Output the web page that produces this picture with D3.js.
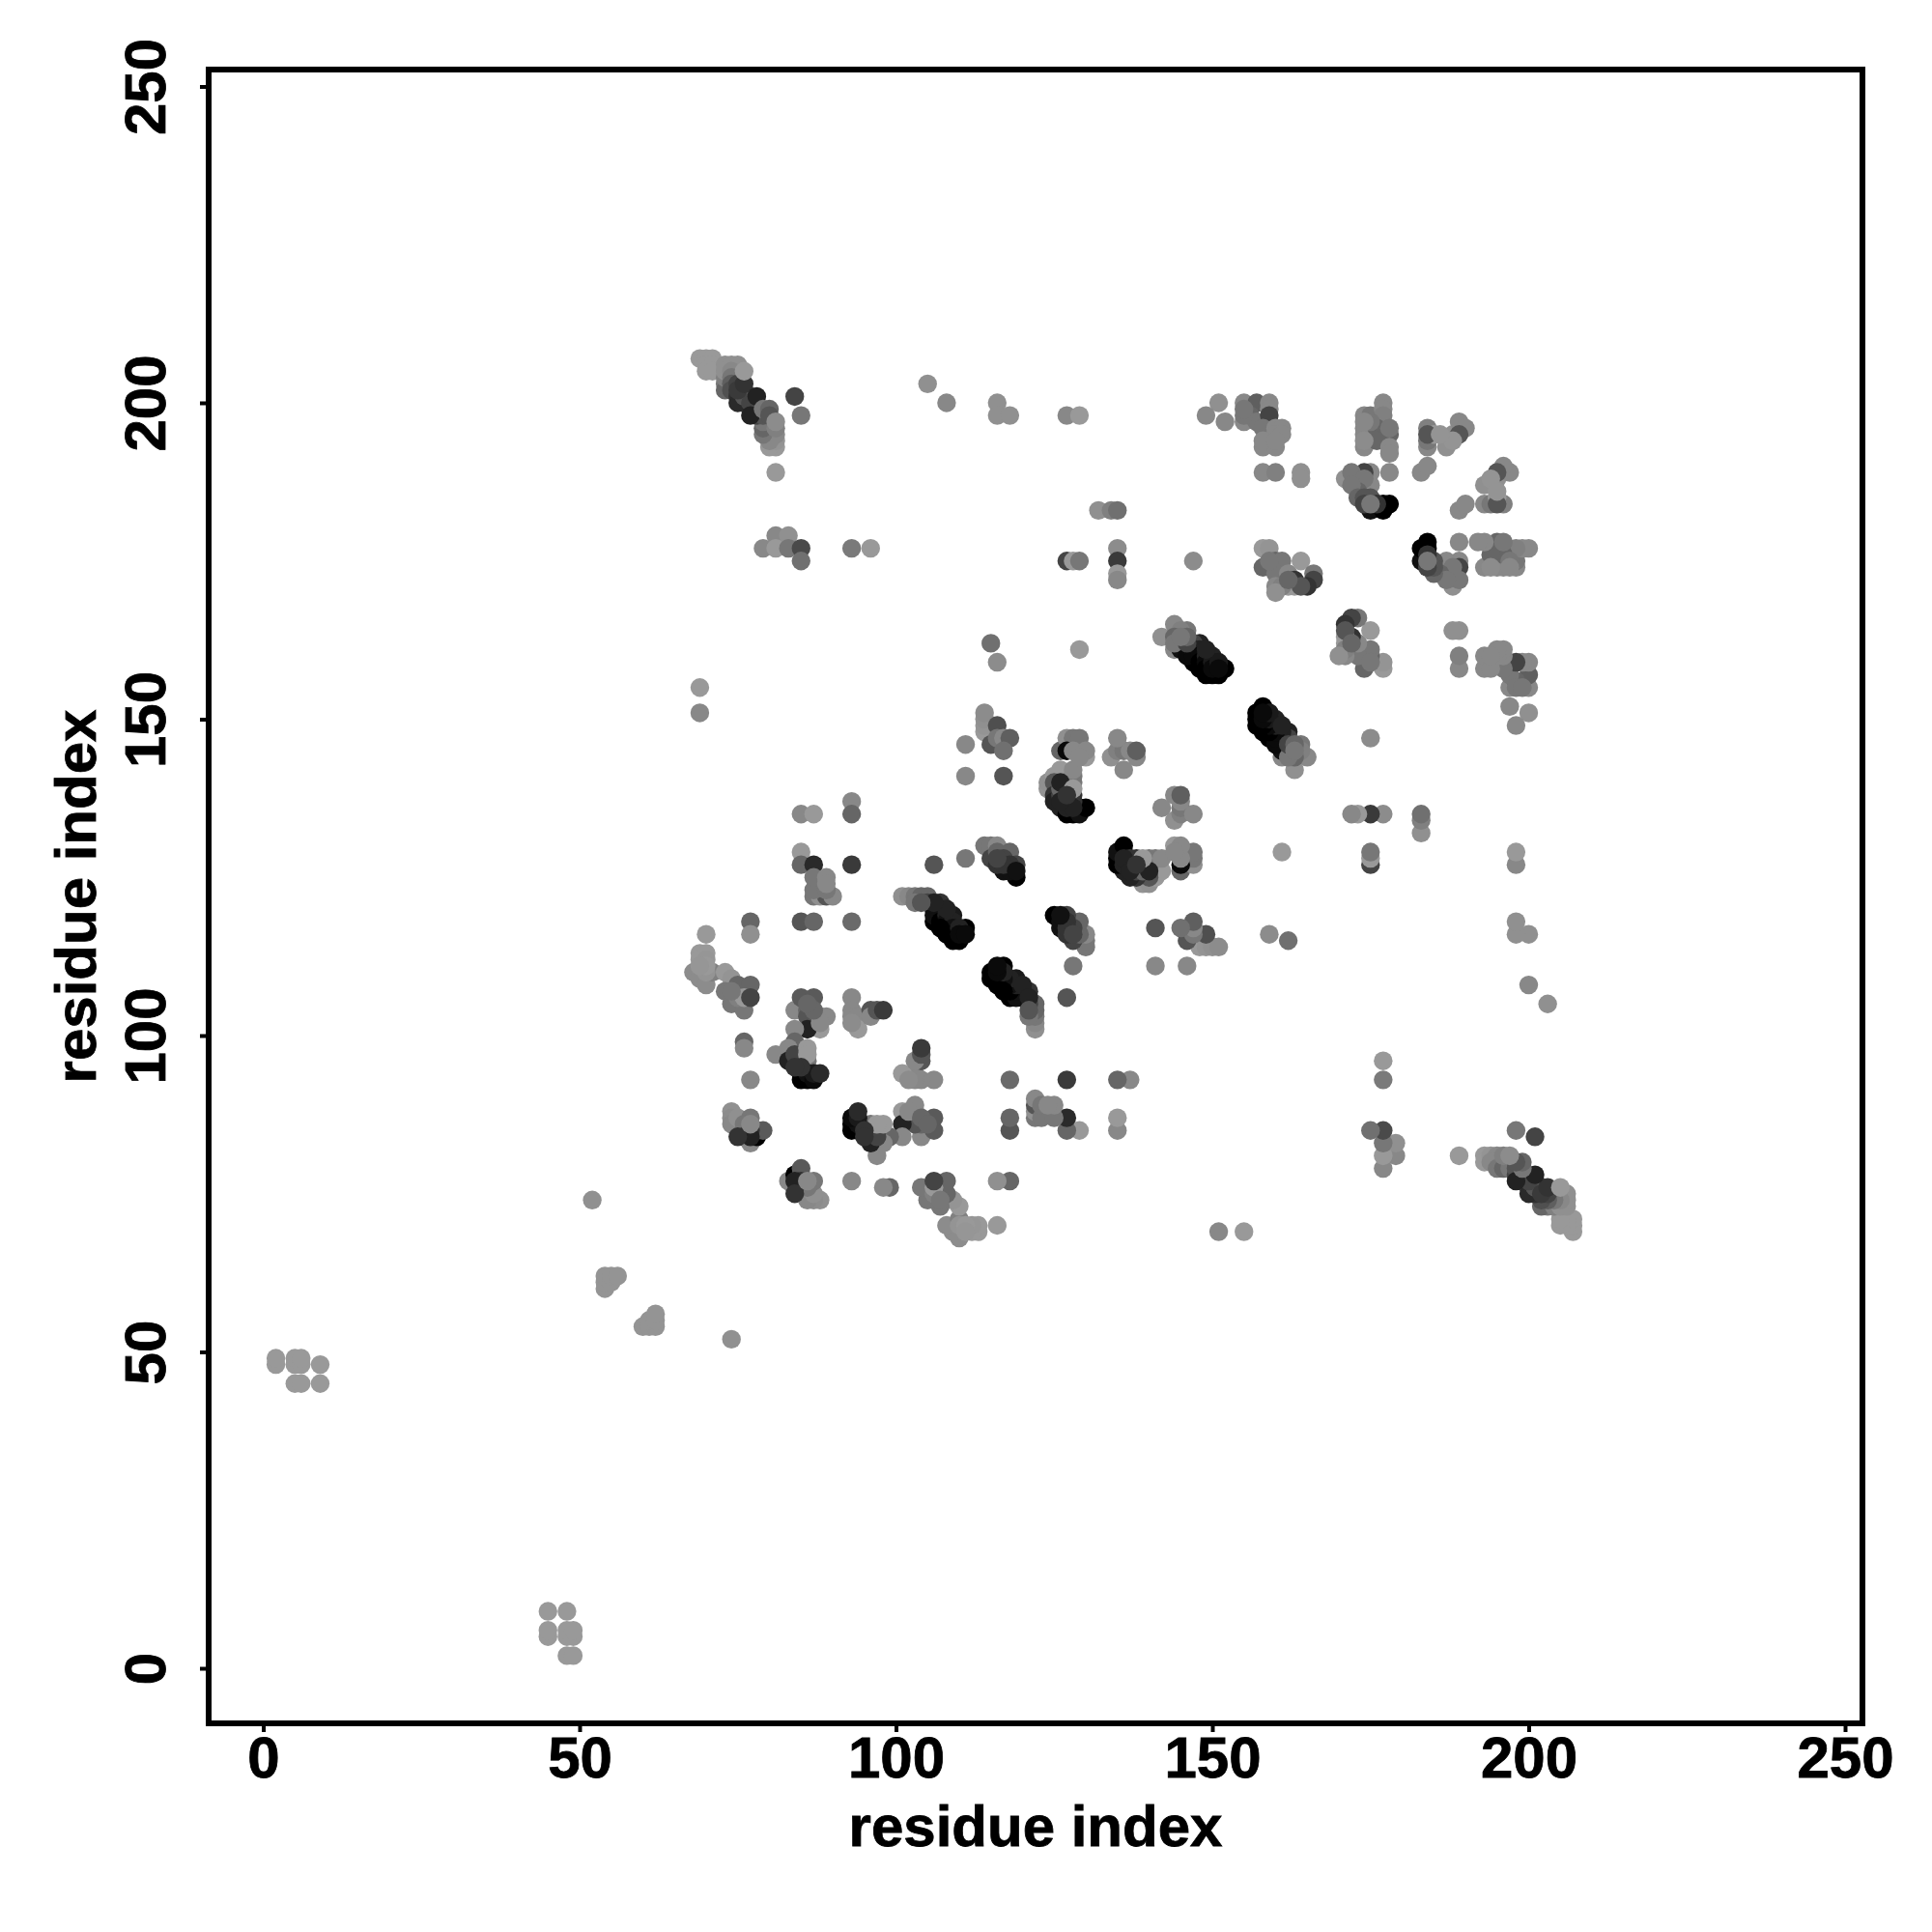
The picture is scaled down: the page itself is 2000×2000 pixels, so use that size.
<!DOCTYPE html>
<html><head><meta charset="utf-8">
<style>html,body{margin:0;padding:0;background:#fff}svg{display:block}</style>
<script src="https://cdn.jsdelivr.net/npm/d3@7"></script></head><body>
<script>
// contacts: [residue i, residue j, grey level]; the map is symmetric and is mirrored below
const farContacts = [
[2,48,153],[2,49,153],[5,45,153],[5,48,153],[5,49,153],[6,45,153],[6,48,153],[6,49,153],[9,45,153],[9,48,153],
[52,74,144],[54,60,148],[54,61,148],[54,62,148],[55,61,148],[55,62,148],[56,62,148],
[69,155,153],[69,151,136],[105,203,144],[108,200,136],[116,200,144],[116,198,144],[118,198,144],[127,198,136],[129,198,153],
[132,183,144],[134,183,128],[135,183,112],[135,177,140],[135,175,58],[135,173,153],[127,175,68],[128,175,153],[129,175,119],
[79,177,136],[81,179,136],[83,179,144],[81,177,153],[83,177,119],[85,177,74],[85,175,112],[93,177,122],[96,177,153],
[115,162,112],[116,159,140],[129,161,153],[84,201,68],[85,198,119],[81,189,153],[147,175,140],[161,129,153],
[151,200,144],[149,198,136],[152,197,136],[158,189,136],[160,189,128],[164,189,144],[164,188,144],
[188,164,153],[189,164,153],[189,160,136],[189,158,136],[197,152,128],[200,151,144],[198,149,136],[175,147,136],
[172,135,136],[175,135,51],[177,135,136],[183,135,112],[183,134,112],[183,132,144]
];
const strandTopLeft = [
[69,207,153],[70,207,153],[71,207,153],[70,206,153],[71,206,153],[70,205,153],[71,205,153],
[73,203,119],[73,202,102],[73,204,128],[73,205,144],[73,206,144],[74,206,144],[75,206,144],[74,205,136],[74,204,119],
[81,193,153],[80,193,153],[81,194,148],[81,195,136],[80,194,136],[79,195,119],[79,196,102],[79,197,119],
[74,203,95],[74,202,80],[75,203,68],[75,201,51],[76,202,68],[76,200,51],[77,201,68],[78,199,51],[78,198,68],[77,199,68],[79,198,85],
[75,200,42],[76,201,85],[77,200,68],[77,198,34],[75,202,58],[76,203,51],[78,201,34],[79,199,119],[80,199,102],[80,198,85],[81,196,128],[81,197,140],[76,205,153]
];
const sheetA = [
[114,148,153],[114,149,148],[114,150,144],[114,151,140],[115,146,85],[116,149,79],[116,147,119],[117,147,136],[118,147,95],[117,145,112],[111,146,136],[111,141,136],[117,141,85],
[124,139,148],[124,140,144],[125,141,153],[126,142,153],[125,140,85],[125,138,51],[125,137,34],[126,136,34],[127,135,0],[128,135,0],[128,138,51],[129,136,17],[129,135,17],[130,136,0],
[126,138,68],[127,137,51],[127,136,34],[128,137,51],[128,136,34],
[128,140,119],[128,141,119],[128,142,136],
[126,145,102],[130,144,153],[127,147,144],[128,147,119],[129,147,119],[127,145,10],[128,145,136],[130,145,136],
[134,144,144],[135,145,128],[136,145,119],[137,145,136],[138,144,136],[138,145,95],[135,147,136],[136,142,136],
[142,136,136],[144,138,144],[145,136,128],[147,135,136],[145,135,119],[144,134,153],[145,138,95]
];
const sheetB = [
[136,130,0],[135,129,0],[135,128,0],[135,127,0],[136,128,17],[138,128,34],[137,127,34],[137,125,34],[139,124,153],[140,124,153],[139,126,102],[142,126,153],[140,126,34],[139,128,153],[141,128,102],[142,128,102],
[136,129,10],[136,127,17],[137,128,34],[136,126,17],[137,126,34],[138,126,51],[138,125,68],[138,127,51],
[144,129,136],[144,130,144],[145,130,128],[145,126,85],[145,127,136],[145,128,34],[147,127,153],[147,128,119],[147,129,102],
[106,127,85],[111,128,119],
[114,130,119],[115,130,119],[116,130,136],[115,128,68],[116,129,102],[118,129,102],[117,128,68],[119,125,0],[117,126,17],[118,126,17],[119,127,68],[116,127,51],[118,127,51],[117,127,51],[119,126,17]
];
const sheetC = [
[101,122,144],[102,122,136],[103,122,119],[104,122,102],[105,122,102],[103,121,119],[105,121,68],[106,120,17],[106,118,0],[107,121,51],[108,116,0],[109,115,0],[110,115,0],[109,119,26],[111,117,0],
[106,119,17],[107,120,34],[107,119,17],[107,118,0],[108,119,34],[108,118,17],[108,117,0],[109,118,34],[109,117,17],[109,116,0],[110,117,34],[110,116,10],[111,116,10],
[125,119,0],[126,117,34],[126,119,10],[127,119,51],[128,115,85],[128,116,68],[129,118,102],[130,114,102],[130,115,119],[130,116,136],[127,118,51],[127,117,51],[128,117,85],
[128,111,119],[127,106,85],[141,117,85],[141,111,136],[146,111,136],
[145,117,119],[148,114,153],[150,114,153],[151,114,136],[147,116,136],[146,115,85],[147,118,102],[149,116,68],[159,116,153],[162,115,112],
[116,108,0],[116,110,0],[116,109,0],[117,111,0],[118,106,0],[119,106,0],[119,109,26],[121,103,136],[122,101,136],[122,102,119],[122,103,110],[122,104,102],[122,105,85],[121,107,51],
[117,110,17],[117,109,17],[117,108,0],[117,107,0],[118,109,26],[118,108,17],[118,107,0],[119,108,26],[119,107,10],[120,107,34],[120,106,17],[120,108,34],[121,106,34],[121,105,68],[121,104,85]
];
const sheetD = [
[85,135,136],[87,135,153],[93,137,136],[93,135,102],[85,129,153],[85,127,102],[87,127,42],[93,127,58],
[87,122,119],[88,122,144],[89,122,85],[90,122,136],[87,123,119],[89,123,119],[87,125,119],[89,125,136],
[77,118,102],[77,116,144],[85,118,85],[87,118,102],[93,118,106],
[70,116,153],[69,113,153],[70,113,153],[69,112,153],[70,112,150],
[68,110,140],[69,109,140],[70,108,140],[71,110,128],[73,110,153],[74,109,148],[73,107,119],[75,108,102],[74,105,119],[76,104,119],[75,106,128],[77,108,102],[76,106,153],[77,106,68],
[76,99,102],[76,98,136],[77,93,136],
[84,104,136],[85,106,90],[87,106,90],[86,104,102],[86,103,85],[88,103,85],[89,103,136],[88,101,153],[86,101,34],[84,101,136],[84,99,102],
[81,97,136],[83,98,136],[83,96,34],[85,96,51],[84,97,68],[86,96,119],[86,98,153],[86,97,153],[85,93,0],[85,94,0],[86,93,0],[86,94,17],[87,93,10],[87,94,26],[88,94,42],
[93,106,136],[93,104,136],[93,103,136],[94,103,136],[94,101,153],[96,104,85],[96,103,136],[97,104,85],[98,104,58]
];
const sheetE = [
[104,98,58],[104,97,119],[104,96,58],[103,96,119],[101,94,144],[103,93,136],[104,93,136],[106,93,136],[102,93,140],
[118,93,112],[127,93,51],[135,93,102],[137,93,138],[118,87,95],[118,85,90],
[122,90,136],[122,87,136],[122,88,136],[123,87,119],[123,89,119],[124,89,136],[125,89,136],[125,87,119],[127,87,51],[127,85,102],[129,85,136],
[74,88,144],[74,87,140],[74,86,136],[75,87,144],[77,87,119],[76,86,119],[76,84,51],[77,83,136],[78,84,0],[78,85,90],[79,85,90],[77,85,51],[77,84,34],
[93,87,0],[93,85,0],[93,86,0],[94,85,10],[94,86,10],[94,88,17],[94,87,85],[95,85,51],[95,84,51],[96,85,68],[96,83,34],[97,84,51],[98,83,119],[99,84,95],[96,86,136],[98,86,144],[97,81,128],
[101,88,148],[102,88,136],[103,89,136],[101,86,42],[101,84,119],[104,84,119],[104,86,102],[104,87,102],[105,86,102],[106,87,85],[106,85,85],
[85,79,85],[84,78,68],[83,77,119],[84,76,34],[84,75,51],[86,77,136],[87,77,136],[86,74,153],[88,74,144],
[93,77,144],[98,76,153],[99,76,102],
[104,76,136],[105,74,119],[106,75,102],[106,77,90],[107,74,119],[108,77,119],[109,74,136],[110,73,136],[108,70,144],[109,69,148],[110,68,148],[110,70,148],[111,70,153],[111,69,150],[112,69,150],[113,70,150],[113,69,150],[116,70,153],
[116,77,144],[118,77,95],[151,69,148],[155,69,148]
];
const sheetF = [
[155,200,136],[157,200,95],[159,200,136],[159,199,136],[155,197,136],[156,198,102],[157,197,119],[159,198,68],[158,196,119],[160,196,136],[161,196,136],[160,195,136],[161,195,136],[158,193,136],[160,193,136],[158,194,136],
[174,193,136],[174,198,136],[174,196,136],[174,195,136],[175,198,119],[177,200,136],[177,199,136],[177,198,128],[176,196,102],[177,195,102],[178,195,102],[176,194,102],[178,193,136],[178,192,136],
[178,189,136],[175,189,136],[174,189,68],[171,188,144],[172,189,119],[175,187,136],[174,188,119],[173,186,102],[172,187,119],[173,185,102],[175,185,85],[175,183,17],[177,184,0],[177,183,0],[178,184,0],
[174,185,85],[174,184,68],[176,184,51],
[184,196,128],[184,193,136],[184,194,119],[185,195,153],[187,193,144],[188,195,144],[189,197,136],[190,196,136],[189,195,85],[183,189,136],[184,190,136],
[196,190,136],[197,189,136],[195,189,85],[193,187,153],[194,188,148],[189,183,136],[190,184,136],[193,184,136],[194,184,148],[195,184,85],[196,184,136],[195,186,148],
[184,178,0],[183,177,0],[184,177,5],[183,175,17],[185,175,85],[184,175,119],[187,175,136],[189,175,153],[189,174,68],[189,178,140],[188,171,153],[189,172,136],[187,172,136],[185,173,102],
[192,178,153],[193,178,148],[195,178,119],[196,178,119],[198,177,144],[199,177,136],[200,177,136],[193,174,136],[194,174,140],[197,175,119],[197,174,136],[196,174,153],[194,176,119]
];
const sheetG = [
[158,177,153],[159,177,148],[158,174,102],[160,175,102],[161,175,119],[160,173,119],[160,171,136],[162,173,136],[164,175,153],[163,172,51],[166,173,119],[166,172,68],[165,171,51],[162,171,153],[163,171,153],
[142,163,144],[144,165,136],[146,164,119],[145,164,128],[144,163,102],[144,161,136],[145,162,85],[148,162,34],[147,162,68],[150,160,34],[147,159,0],[149,157,0],[152,158,0],[151,157,0],[150,157,0],[145,161,17],
[146,161,17],[146,160,10],[147,161,34],[147,160,10],[148,161,34],[148,160,10],[148,159,0],[148,158,0],[149,160,34],[149,159,10],[149,158,0],[150,159,26],[150,158,10],[151,159,26],[151,158,10],
[172,166,102],[173,166,119],[171,165,51],[175,164,153],[171,164,85],[171,163,102],[171,162,119],[171,161,128],[170,160,144],[174,158,85],[175,161,102],[175,159,119],[177,159,136],[177,158,136],[173,162,85],[173,160,119],[172,162,102],
[193,160,136],[193,158,136],[195,161,136],[196,161,136],[194,160,136],[196,158,136],[198,159,85],[199,159,136],[200,159,136],[200,157,85],[197,155,102],[198,155,119],[199,155,119],[200,155,119],
[158,152,0],[157,151,0],[157,150,0],[157,149,0],[159,147,0],[160,150,34],[162,148,34],[161,145,68],[162,144,119],[163,142,136],[164,146,136],[165,144,136],
[158,151,0],[158,150,5],[158,149,0],[158,148,0],[159,151,17],[159,150,26],[159,149,10],[159,148,0],[160,149,26],[160,148,10],[160,147,17],[161,149,34],[161,148,26],[161,147,34],[161,146,51],[162,147,51],[162,146,68],[162,145,85],[163,146,102],[163,145,119],[163,144,136],[164,145,136]
];

const xTicks = [0,50,100,150,200,250];
const yTicks = [0,50,100,150,200,250];
const xTitle = "residue index";
const yTitle = "residue index";

const listed = [].concat(farContacts,strandTopLeft,sheetA,sheetB,sheetC,sheetD,sheetE,sheetF,sheetG);
const seen = new Set(), canonical = [];
for (const [a,b,g] of listed){
  const k = Math.min(a,b)+"_"+Math.max(a,b);
  if(!seen.has(k)){ seen.add(k); canonical.push([a,b,g]); }
}
const points = [];
for (const [a,b,g] of canonical){ points.push({x:a,y:b,g}); points.push({x:b,y:a,g}); }

const W=2000,H=2000;
const frame={left:216,right:1928,top:72,bottom:1784};
const x=d3.scaleLinear().domain([0,250]).range([272.5,1910]);
const y=d3.scaleLinear().domain([0,250]).range([1727,89.5]);
const svg=d3.select("body").append("svg").attr("width",W).attr("height",H);
svg.append("rect").attr("width",W).attr("height",H).attr("fill","#fff");

svg.append("g").selectAll("circle").data(points).join("circle")
  .attr("cx",d=>x(d.x)).attr("cy",d=>y(d.y)).attr("r",9.7)
  .attr("fill",d=>d3.rgb(d.g,d.g,d.g));

const font='"Liberation Sans", Arial, sans-serif';
const gx=svg.append("g").attr("transform",`translate(0,${frame.bottom})`)
  .call(d3.axisBottom(x).tickValues(xTicks).tickFormat(d3.format("d")).tickSize(9).tickSizeOuter(0));
const gy=svg.append("g").attr("transform",`translate(${frame.left},0)`)
  .call(d3.axisLeft(y).tickValues(yTicks).tickFormat(d3.format("d")).tickSize(9).tickSizeOuter(0));
[gx,gy].forEach(g=>{
  g.select(".domain").remove();
  g.selectAll(".tick line").attr("stroke","#000").attr("stroke-width",4);
  g.selectAll(".tick text").attr("fill","#000").attr("stroke","#000").attr("stroke-width",0.8)
    .style("font-family",font).style("font-weight","bold").style("font-size","60px");
});
gx.selectAll(".tick text").attr("y",null).attr("dy",null).attr("text-anchor","middle").attr("transform","translate(0,55.5)");
gy.selectAll(".tick text").attr("x",null).attr("dy",null).attr("text-anchor","middle").attr("transform","translate(-45,0) rotate(-90)");

svg.append("rect").attr("x",frame.left).attr("y",frame.top).attr("width",frame.right-frame.left).attr("height",frame.bottom-frame.top)
  .attr("fill","none").attr("stroke","#000").attr("stroke-width",6);

svg.append("text").attr("x",(frame.left+frame.right)/2).attr("y",1911).attr("text-anchor","middle").attr("stroke","#000").attr("stroke-width",0.8)
  .style("font-family",font).style("font-weight","bold").style("font-size","60px").text(xTitle);
svg.append("text").attr("transform",`translate(99,${(frame.top+frame.bottom)/2}) rotate(-90)`).attr("text-anchor","middle").attr("stroke","#000").attr("stroke-width",0.8)
  .style("font-family",font).style("font-weight","bold").style("font-size","60px").text(yTitle);
</script></body></html>
